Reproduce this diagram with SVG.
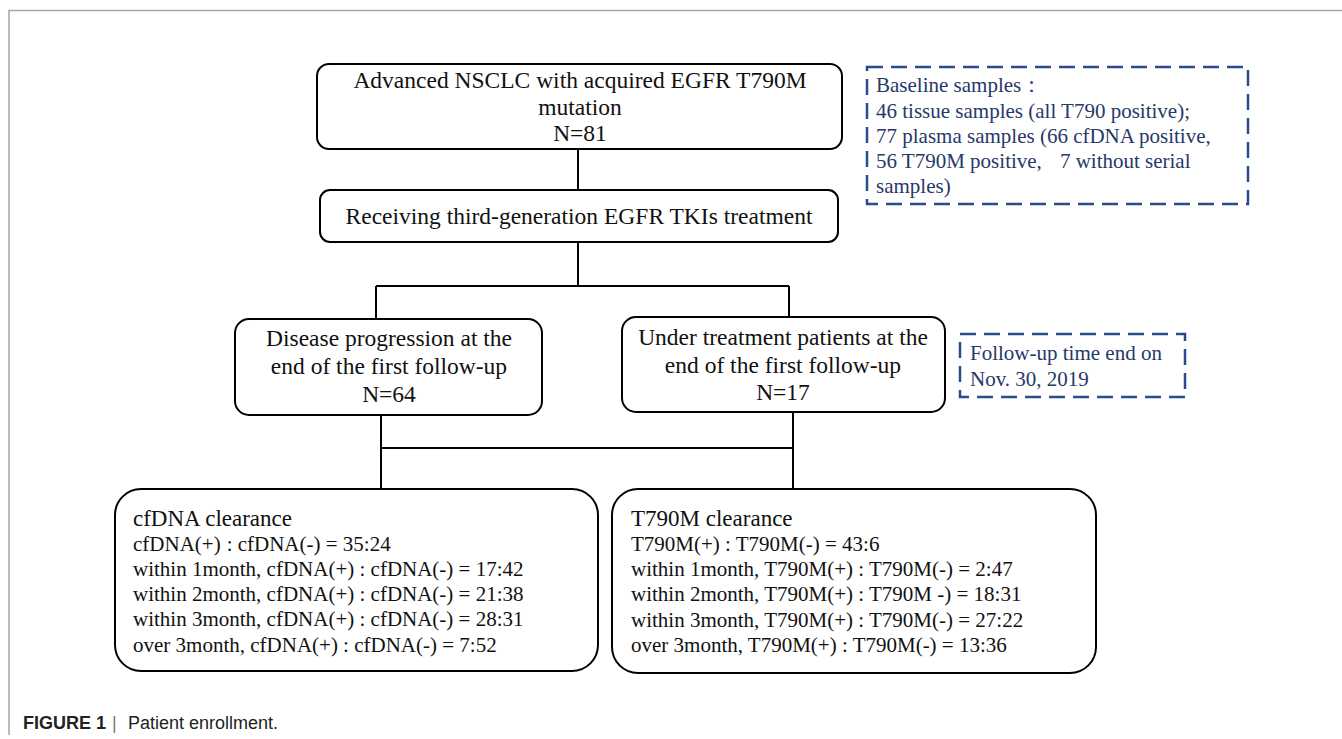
<svg xmlns="http://www.w3.org/2000/svg" width="1342" height="739" viewBox="0 0 1342 739">
<style>
.box{fill:#fff;stroke:#000;stroke-width:2}
.dash{fill:#fff;stroke:#2b4c8c;stroke-width:2.5;stroke-dasharray:16 8}
.t{font-family:"Liberation Serif","Times New Roman",serif;fill:#111}
.c{text-anchor:middle;font-size:23.5px}
.s{font-size:21px}
.h{font-size:23px}
.b{font-family:"Liberation Serif","Times New Roman",serif;fill:#27386a;font-size:21px}
.ln{fill:none;stroke:#000;stroke-width:2}
.cap{font-family:"Liberation Sans",Arial,sans-serif;font-size:18px;fill:#222}
</style>
<rect x="0" y="0" width="1342" height="739" fill="#fff"/>
<path d="M9 735 V10.5 H1342" fill="none" stroke="#a6a6a6" stroke-width="1.5"/>
<g id="connectors">
<path class="ln" d="M578 149 V190"/>
<path class="ln" d="M578 242 V286 M376 286 H789 M376 286 V319 M789 286 V316"/>
<path class="ln" d="M381 415 V490 M793 412 V490 M381 448 H793"/>
</g>
<g id="n1">
<rect class="box" x="317" y="64" width="525" height="85" rx="12"/>
<text class="t c" x="580" y="88">Advanced NSCLC with acquired EGFR T790M</text>
<text class="t c" x="580" y="115">mutation</text>
<text class="t c" x="580" y="141">N=81</text>
</g>
<g id="n2">
<rect class="box" x="320" y="190" width="518" height="52" rx="10"/>
<text class="t c" x="579" y="224">Receiving third-generation EGFR TKIs treatment</text>
</g>
<g id="n3">
<rect class="box" x="235" y="319" width="307" height="96" rx="14"/>
<text class="t c" x="389" y="346">Disease progression at the</text>
<text class="t c" x="389" y="374">end of the first follow-up</text>
<text class="t c" x="389" y="402">N=64</text>
</g>
<g id="n4">
<rect class="box" x="622" y="317" width="323" height="95" rx="14"/>
<text class="t c" x="783" y="345">Under treatment patients at the</text>
<text class="t c" x="783" y="373">end of the first follow-up</text>
<text class="t c" x="783" y="400">N=17</text>
</g>
<g id="baseline">
<rect class="dash" x="867" y="67" width="381" height="137"/>
<text class="b" x="876" y="92">Baseline samples：</text>
<text class="b" x="876" y="118">46 tissue samples (all T790 positive);</text>
<text class="b" x="876" y="143">77 plasma samples (66 cfDNA positive,</text>
<text class="b" x="876" y="168">56 T790M positive,<tspan dx="18">7 without serial</tspan></text>
<text class="b" x="876" y="193">samples)</text>
</g>
<g id="followup">
<rect class="dash" x="960" y="334" width="225" height="63"/>
<text class="b" x="970" y="360">Follow-up time end on</text>
<text class="b" x="970" y="386">Nov. 30, 2019</text>
</g>
<g id="n5">
<rect class="box" x="115" y="489" width="483" height="182" rx="26"/>
<text class="t h" x="133" y="526">cfDNA clearance</text>
<text class="t s" x="133" y="551">cfDNA(+)<tspan dx="6">: cfDNA(-) = 35:24</tspan></text>
<text class="t s" x="133" y="576">within 1month, cfDNA(+) : cfDNA(-) = 17:42</text>
<text class="t s" x="133" y="601">within 2month, cfDNA(+) : cfDNA(-) = 21:38</text>
<text class="t s" x="133" y="626">within 3month, cfDNA(+) : cfDNA(-) = 28:31</text>
<text class="t s" x="133" y="652">over 3month, cfDNA(+) : cfDNA(-) = 7:52</text>
</g>
<g id="n6">
<rect class="box" x="612" y="489" width="484" height="184" rx="26"/>
<text class="t h" x="631" y="526">T790M clearance</text>
<text class="t s" x="631" y="551">T790M(+) : T790M(-) = 43:6</text>
<text class="t s" x="631" y="576">within 1month, T790M(+) : T790M(-) = 2:47</text>
<text class="t s" x="631" y="601">within 2month, T790M(+) : T790M -) = 18:31</text>
<text class="t s" x="631" y="627">within 3month, T790M(+) : T790M(-) = 27:22</text>
<text class="t s" x="631" y="652">over 3month, T790M(+) : T790M(-) = 13:36</text>
</g>
<g id="caption">
<text class="cap" x="23" y="729"><tspan font-weight="bold">FIGURE 1</tspan><tspan x="112" fill="#777">|</tspan><tspan x="128">Patient enrollment.</tspan></text>
</g>
</svg>
